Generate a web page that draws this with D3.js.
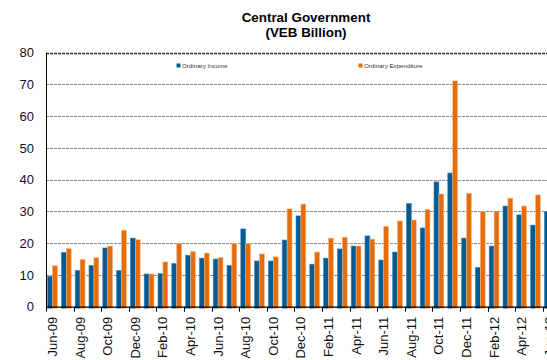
<!DOCTYPE html>
<html><head><meta charset="utf-8">
<script src="https://cdn.jsdelivr.net/npm/d3@7"></script>
<style>body{margin:0;background:#fff;} svg{display:block;font-family:Arial,"Liberation Sans",sans-serif;}</style>
</head><body><svg id="c" width="547" height="360"></svg>
<script>
const months = ["Jun-09","Jul-09","Aug-09","Sep-09","Oct-09","Nov-09","Dec-09",
"Jan-10","Feb-10","Mar-10","Apr-10","May-10","Jun-10","Jul-10","Aug-10","Sep-10","Oct-10","Nov-10","Dec-10",
"Jan-11","Feb-11","Mar-11","Apr-11","May-11","Jun-11","Jul-11","Aug-11","Sep-11","Oct-11","Nov-11","Dec-11",
"Jan-12","Feb-12","Mar-12","Apr-12","May-12","Jun-12"];
const income = [9.6,17.1,11.4,13.0,18.5,11.4,21.6,
10.3,10.4,13.6,16.2,15.3,15.0,13.0,24.5,14.4,14.4,21.0,28.6,
13.4,15.3,18.2,19.1,22.3,14.7,17.2,32.5,24.8,39.3,42.1,21.6,
12.4,19.1,31.7,28.9,25.7,29.9];
const expenditure = [12.9,18.3,14.9,15.4,19.1,24.1,21.1,
10.3,14.1,19.9,17.4,16.9,15.5,19.9,19.9,16.6,15.7,30.8,32.3,
17.2,21.6,21.9,19.1,21.3,25.3,27.0,27.3,30.7,35.5,71.1,35.7,
29.9,30.1,34.2,31.7,35.2,null];
const yTicks = [0,10,20,30,40,50,60,70,80];
const tickLabels = months.filter((m,i)=>i%2===0);
const seriesNames = ["Ordinary Income","Ordinary Expenditure"];
const colors = ["#045b92","#e46c0a"];
const edge = ["#3c86b8","#f7b98a"];

const svg = d3.select("#c");
const mLeft = 46, mTop = 52.7, mBottom = 306.7, mRight = 46 + 37*13.8;
const x = d3.scaleBand().domain(months).range([mLeft, mRight]).padding(0);
const xs = d3.scaleBand().domain([0,1]).range([1.6, 11.4]).padding(0);
const y = d3.scaleLinear().domain([0,80]).range([mBottom, mTop]);

// gridlines
svg.append("g").selectAll("line").data(yTicks.filter(d=>d>0)).join("line")
  .attr("x1", mLeft).attr("x2", 547).attr("y1", d=>Math.round(y(d))+0.5).attr("y2", d=>Math.round(y(d))+0.5)
  .attr("stroke", d=>d===80?"#333":"#8a8a8a").attr("stroke-width", d=>d===80?1.3:1)
  .attr("stroke-dasharray","3,1");

// bars
const series = [income, expenditure];
series.forEach((vals, si) => {
  svg.append("g").selectAll("rect").data(months.map((m,i)=>({m, v: vals[i]})).filter(d=>d.v!=null)).join("rect")
    .attr("x", d=>x(d.m)+xs(si)).attr("width", xs.bandwidth())
    .attr("y", d=>y(d.v)).attr("height", d=>y(0)-y(d.v)+1.5)
    .attr("fill", colors[si]).attr("stroke", edge[si]).attr("stroke-width", 0.6);
});

// axes
svg.append("line").attr("x1", mLeft+0.5).attr("x2", mLeft+0.5).attr("y1", mTop).attr("y2", mBottom+1).attr("stroke","#000").attr("stroke-width",1);
svg.append("line").attr("x1", mLeft).attr("x2", 547).attr("y1", mBottom+0.5).attr("y2", mBottom+0.5).attr("stroke","#000").attr("stroke-width",1.3);

// y labels
svg.append("g").selectAll("text").data(yTicks).join("text")
  .attr("x", 34).attr("y", d=>y(d)).attr("dy","0.36em").attr("text-anchor","end")
  .attr("font-size", 13).attr("fill","#111").text(d=>d);

// x ticks at boundaries every two months
svg.append("g").selectAll("line").data(tickLabels).join("line")
  .attr("x1", d=>Math.round(x(d))+0.5).attr("x2", d=>Math.round(x(d))+0.5)
  .attr("y1", mBottom).attr("y2", mBottom+5).attr("stroke","#000");

// x labels rotated
svg.append("g").selectAll("text").data(tickLabels).join("text")
  .attr("transform", d=>`translate(${x(d)+x.bandwidth()/2+4},${mBottom+10}) rotate(-90)`)
  .attr("text-anchor","end").attr("font-size", 13).attr("fill","#111").text(d=>d);

// title
svg.append("text").attr("x", 306).attr("y", 21.5).attr("text-anchor","middle")
  .attr("font-size", 13.4).attr("font-weight","bold").text("Central Government");
svg.append("text").attr("x", 306).attr("y", 37).attr("text-anchor","middle")
  .attr("font-size", 13.4).attr("font-weight","bold").text("(VEB Billion)");

// legend
const lg = [{x:176.5},{x:358.5}];
seriesNames.forEach((n,i)=>{
  svg.append("rect").attr("x", lg[i].x).attr("y", 63.5).attr("width",4).attr("height",4).attr("fill", colors[i]);
  svg.append("text").attr("x", lg[i].x+5.5).attr("y", 68.3).attr("font-size", 6.2).attr("fill","#333").text(n);
});
</script></body></html>
